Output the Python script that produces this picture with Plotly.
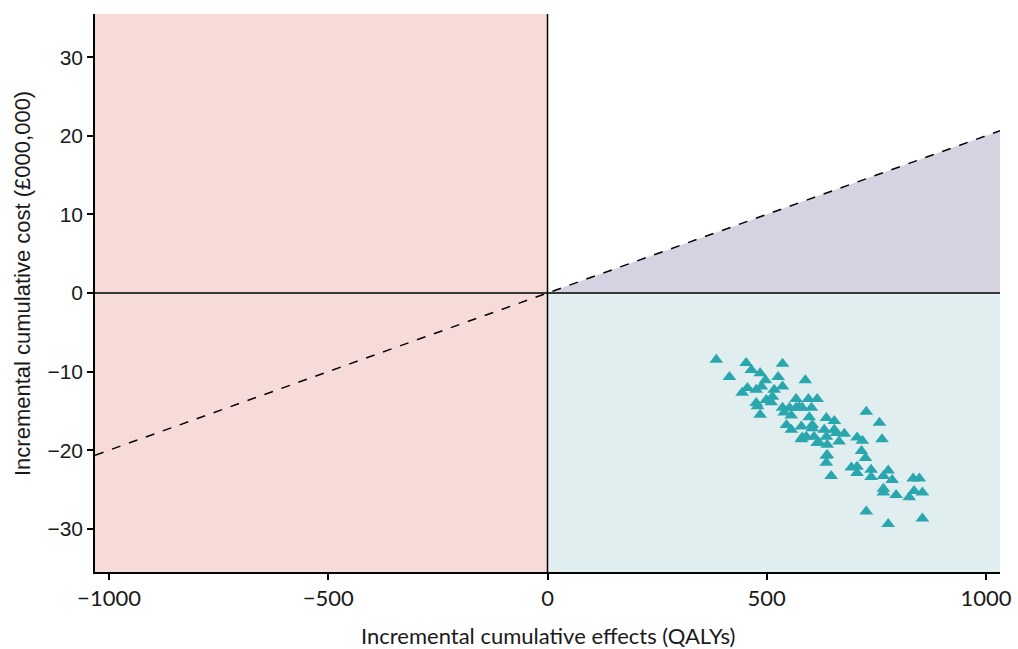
import plotly.graph_objects as go

# Probabilistic sensitivity analysis draws: incremental QALYs vs incremental cost (£m)
qalys = [385, 415, 453, 465, 485, 497, 536, 526, 588, 444,
         456, 476, 488, 517, 536, 513, 476, 479, 499, 510,
         485, 567, 595, 615, 536, 552, 567, 581, 602, 540,
         556, 597, 636, 654, 545, 556, 579, 604, 631, 654,
         581, 590, 608, 636, 659, 677, 615, 638, 665, 706,
         718, 763, 727, 757, 716, 725, 636, 636, 647, 693,
         706, 706, 738, 738, 766, 777, 786, 766, 766, 795,
         834, 848, 836, 855, 825, 727, 777, 855, 574, 620,
         638, 579, 604]
costs = [-8.5, -10.7, -8.9, -9.8, -10.2, -11.1, -9.0, -10.7, -11.1, -12.7,
         -12.1, -12.3, -11.9, -12.3, -11.9, -13.2, -14.0, -14.4, -13.6, -13.9,
         -15.5, -13.5, -13.5, -13.5, -14.6, -14.6, -14.6, -14.6, -14.6, -15.2,
         -15.6, -15.8, -15.9, -16.3, -16.8, -17.4, -17.0, -17.2, -17.4, -17.4,
         -18.4, -18.3, -18.3, -18.3, -17.8, -17.9, -19.1, -19.3, -18.9, -18.4,
         -18.8, -18.6, -15.1, -16.5, -20.1, -21.0, -20.7, -21.6, -23.3, -22.2,
         -22.1, -22.9, -22.5, -23.4, -23.3, -22.6, -23.8, -24.9, -25.4, -25.7,
         -23.6, -23.6, -25.2, -25.4, -26.0, -27.8, -29.4, -28.7, -14.5, -19.1,
         -20.6, -18.6, -16.8]

# Willingness-to-pay threshold: £20,000 per QALY, in £000,000 per QALY
wtp = 0.02

x_ticks = [-1000, -500, 0, 500, 1000]
x_labels = ["\u22121000", "\u2212500", "0", "500", "1000"]
y_ticks = [-30, -20, -10, 0, 10, 20, 30]
y_labels = ["\u221230", "\u221220", "\u221210", "0", "10", "20", "30"]

x_title = "Incremental cumulative effects (QALYs)"
y_title = "Incremental cumulative cost (£000,000)"

x_range = [-1032, 1032]
y_range = [-35.5, 35.5]

PINK = "#f7dbd9"
PURPLE = "#d5d3e1"
TEAL_BG = "#e0eef0"
MARKER = "#2aa7ae"

fig = go.Figure()

# Threshold line through the origin
fig.add_trace(go.Scatter(
    x=x_range, y=[wtp * v for v in x_range], mode="lines",
    line=dict(color="black", width=1.5, dash="dash"),
    hoverinfo="skip", showlegend=False,
))

fig.add_trace(go.Scatter(
    x=qalys, y=costs, mode="markers",
    marker=dict(symbol="triangle-up", size=12, color=MARKER, line=dict(width=0)),
    showlegend=False,
))

shapes = [
    # Left half: dominated region
    dict(type="rect", xref="x", yref="y", x0=x_range[0], x1=0,
         y0=y_range[0], y1=y_range[1], fillcolor=PINK, line_width=0, layer="below"),
    # South-east quadrant: dominant region
    dict(type="rect", xref="x", yref="y", x0=0, x1=x_range[1],
         y0=y_range[0], y1=0, fillcolor=TEAL_BG, line_width=0, layer="below"),
    # Cost-effective wedge below the threshold in the north-east quadrant
    dict(type="path", xref="x", yref="y",
         path=f"M 0 0 L {x_range[1]} {wtp * x_range[1]} L {x_range[1]} 0 Z",
         fillcolor=PURPLE, line_width=0, layer="below"),
    # Axes through the origin
    dict(type="line", xref="x", yref="y", x0=x_range[0], x1=x_range[1], y0=0, y1=0,
         line=dict(color="black", width=1.5), layer="below"),
    dict(type="line", xref="x", yref="y", x0=0, x1=0, y0=y_range[0], y1=y_range[1],
         line=dict(color="black", width=1.5), layer="below"),
]

annotations = [
    dict(text=x_title, xref="paper", yref="paper", x=0.5, y=0,
         xanchor="center", yanchor="middle", yshift=-63, showarrow=False,
         font=dict(family="Lato", size=22, color="#1a1a1a")),
    dict(text=y_title, xref="paper", yref="paper", x=0, y=0.5,
         xanchor="center", yanchor="middle", xshift=-73, yshift=9,
         textangle=-90, showarrow=False,
         font=dict(family="Liberation Sans", size=22, color="#1a1a1a")),
]

fig.update_layout(
    width=1018, height=649,
    margin=dict(l=95, r=18, t=14, b=77),
    paper_bgcolor="white", plot_bgcolor="white",
    shapes=shapes, annotations=annotations,
    font=dict(family="Lato", size=20, color="#1a1a1a"),
    xaxis=dict(
        range=x_range, tickvals=x_ticks, ticktext=x_labels,
        showgrid=False, zeroline=False, automargin=False,
        showline=True, linecolor="black", linewidth=1.5,
        ticks="outside", ticklen=6, tickwidth=1.5, tickcolor="black",
        tickfont=dict(family="Lato", size=22),
    ),
    yaxis=dict(
        range=y_range, tickvals=y_ticks, ticktext=y_labels,
        showgrid=False, zeroline=False, automargin=False,
        showline=True, linecolor="black", linewidth=1.5,
        ticks="outside", ticklen=6, tickwidth=1.5, tickcolor="black",
        tickfont=dict(family="Liberation Sans", size=21),
    ),
)

fig.write_html("out.html")
